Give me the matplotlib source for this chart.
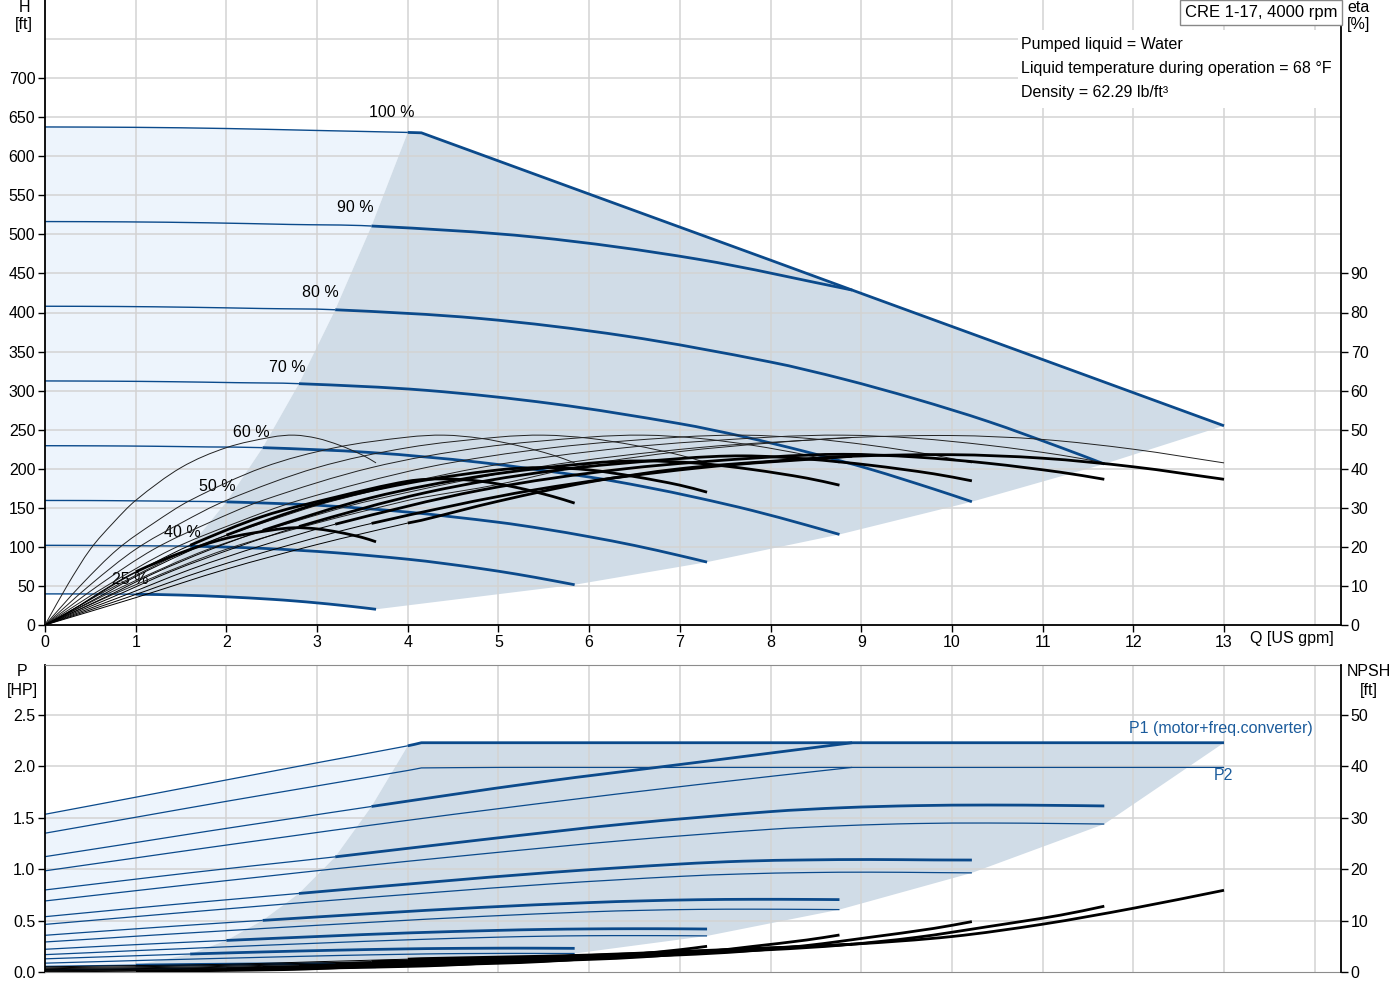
import matplotlib
matplotlib.use("Agg")
import matplotlib.pyplot as plt
from matplotlib.patches import Rectangle, PathPatch
from matplotlib.path import Path

plt.rcParams['font.family'] = ['Liberation Sans', 'DejaVu Sans']

# ------------------------------------------------------------------ data
speed_labels = ["25 %", "40 %", "50 %", "60 %", "70 %", "80 %", "90 %", "100 %"]
label_q = [0.94, 1.51, 1.90, 2.28, 2.67, 3.04, 3.42, 3.82]
label_h = [57.6, 119, 177, 247, 330, 426, 535, 656]

# flow where each speed curve enters the (dark) operating area
bnd_q = [1.0, 1.6, 2.0, 2.4, 2.8, 3.2, 3.6, 4.0]

# pump (hydraulic) efficiency, identical shape for the unlimited speeds
eta_pump = [0, 10.3, 19.4, 26.1, 31.9, 40.3, 45.4, 48.1, 48.6, 47.8, 46.0, 43.5, 41.5]

q_25 = [0, 0.25, 0.5, 0.75, 1.0, 1.5, 2.0, 2.5, 2.75, 3.0, 3.25, 3.5, 3.65]
h_25 = [39.8, 39.8, 39.7, 39.6, 39.4, 38.3, 36.1, 32.9, 30.8, 28.3, 25.4, 22.2, 20.1]
etat_25 = [0, 3.1, 6.8, 10.4, 13.6, 18.5, 22.2, 24.3, 24.9, 24.6, 23.7, 22.4, 21.3]
p1_25 = [0.055, 0.058, 0.061, 0.064, 0.067, 0.072, 0.076, 0.079, 0.080, 0.081, 0.081, 0.081, 0.081]
p2_25 = [0.021, 0.024, 0.026, 0.028, 0.031, 0.035, 0.039, 0.042, 0.043, 0.044, 0.044, 0.044, 0.044]
npsh_25 = [0.06, 0.08, 0.09, 0.13, 0.16, 0.22, 0.31, 0.43, 0.51, 0.66, 0.86, 1.08, 1.25]

q_40 = [0, 0.4, 0.8, 1.2, 1.6, 2.4, 3.2, 4.0, 4.4, 4.8, 5.2, 5.6, 5.84]
h_40 = [102.0, 101.9, 101.7, 101.3, 100.9, 98.1, 92.5, 84.2, 78.7, 72.3, 65.1, 56.8, 51.5]
etat_40 = [0, 5.2, 10.9, 15.9, 20.4, 27.8, 32.7, 36.8, 37.4, 36.8, 35.2, 32.9, 31.2]
p1_40 = [0.128, 0.140, 0.152, 0.164, 0.175, 0.195, 0.212, 0.225, 0.229, 0.231, 0.232, 0.231, 0.230]
p2_40 = [0.086, 0.096, 0.106, 0.116, 0.125, 0.143, 0.160, 0.173, 0.178, 0.180, 0.181, 0.180, 0.180]
npsh_40 = [0.16, 0.20, 0.24, 0.32, 0.40, 0.56, 0.80, 1.09, 1.31, 1.68, 2.21, 2.77, 3.20]

q_50 = [0, 0.5, 1.0, 1.5, 2.0, 3.0, 4.0, 5.0, 5.5, 6.0, 6.5, 7.0, 7.3]
h_50 = [159.4, 159.3, 158.9, 158.3, 157.6, 153.3, 144.5, 131.5, 123.0, 113.0, 101.8, 88.8, 80.5]
etat_50 = [0, 6.0, 12.4, 18.0, 23.0, 31.0, 36.3, 39.7, 40.3, 39.7, 38.0, 35.8, 34.0]
p1_50 = [0.221, 0.244, 0.266, 0.287, 0.307, 0.345, 0.380, 0.405, 0.414, 0.419, 0.421, 0.420, 0.418]
p2_50 = [0.169, 0.188, 0.208, 0.226, 0.245, 0.280, 0.313, 0.339, 0.348, 0.353, 0.354, 0.353, 0.351]
npsh_50 = [0.25, 0.31, 0.38, 0.50, 0.63, 0.88, 1.25, 1.70, 2.05, 2.63, 3.45, 4.33, 5.00]

q_60 = [0, 0.6, 1.2, 1.8, 2.4, 3.6, 4.8, 6.0, 6.6, 7.2, 7.8, 8.4, 8.76]
h_60 = [229.5, 229.3, 228.8, 227.9, 227.0, 220.7, 208.1, 189.4, 177.1, 162.7, 146.5, 127.8, 115.9]
etat_60 = [0, 6.4, 13.2, 19.1, 24.2, 32.6, 38.1, 41.4, 42.0, 41.4, 39.8, 37.6, 35.8]
p1_60 = [0.357, 0.395, 0.432, 0.468, 0.502, 0.568, 0.628, 0.675, 0.692, 0.703, 0.707, 0.706, 0.704]
p2_60 = [0.292, 0.325, 0.359, 0.391, 0.423, 0.484, 0.540, 0.585, 0.600, 0.609, 0.611, 0.609, 0.607]
npsh_60 = [0.36, 0.45, 0.54, 0.72, 0.90, 1.26, 1.80, 2.45, 2.95, 3.78, 4.97, 6.23, 7.20]

q_70 = [0, 0.7, 1.4, 2.1, 2.8, 4.2, 5.6, 7.0, 7.7, 8.4, 9.1, 9.8, 10.22]
h_70 = [312.4, 312.1, 311.4, 310.2, 308.9, 300.4, 283.2, 257.7, 241.1, 221.5, 199.4, 174.0, 157.8]
etat_70 = [0, 6.7, 13.8, 19.8, 25.2, 33.9, 39.5, 42.6, 43.3, 42.5, 40.9, 38.7, 36.9]
p1_70 = [0.538, 0.597, 0.655, 0.710, 0.764, 0.870, 0.970, 1.050, 1.078, 1.090, 1.094, 1.090, 1.089]
p2_70 = [0.463, 0.516, 0.569, 0.621, 0.672, 0.768, 0.858, 0.930, 0.954, 0.967, 0.971, 0.967, 0.964]
npsh_70 = [0.49, 0.61, 0.74, 0.98, 1.23, 1.72, 2.45, 3.33, 4.02, 5.15, 6.76, 8.48, 9.80]

q_80 = [0, 0.8, 1.6, 2.4, 3.2, 4.8, 6.4, 8.0, 8.8, 9.6, 10.4, 11.2, 11.68]
h_80 = [408.0, 407.7, 406.7, 405.1, 403.5, 392.3, 369.9, 336.6, 314.9, 289.3, 260.5, 227.2, 206.1]
etat_80 = [0, 6.9, 14.2, 20.4, 25.8, 34.5, 40.0, 43.0, 43.7, 43.0, 41.4, 39.1, 37.3]
p1_80 = [0.798, 0.882, 0.965, 1.043, 1.120, 1.285, 1.440, 1.560, 1.598, 1.618, 1.624, 1.620, 1.615]
p2_80 = [0.691, 0.771, 0.850, 0.927, 1.004, 1.147, 1.280, 1.388, 1.423, 1.444, 1.449, 1.444, 1.439]
npsh_80 = [0.64, 0.80, 0.96, 1.28, 1.60, 2.24, 3.20, 4.35, 5.25, 6.72, 8.83, 11.07, 12.80]

q_90 = [0, 0.9, 1.8, 2.7, 3.6, 5.4, 7.2, 8.9]
h_90 = [516.4, 516.0, 514.8, 512.7, 510.7, 496.5, 468.2, 428.7]
etap_90 = [0, 10.3, 19.4, 26.1, 31.9, 40.3, 45.4, 48.0]
etat_90 = [0, 7.0, 14.3, 20.5, 26.0, 34.6, 40.2, 43.2]
p1_90 = [1.122, 1.245, 1.370, 1.490, 1.610, 1.840, 2.040, 2.230]
p2_90 = [0.984, 1.097, 1.210, 1.320, 1.429, 1.633, 1.823, 1.990]
npsh_90 = [0.81, 1.01, 1.22, 1.62, 2.03, 2.84, 4.05, 5.40]

# 100 % speed, power limited beyond 4.15 US gpm
q_100 = [0, 1.0, 2.0, 3.0, 4.0, 4.15, 5.0, 6.0, 7.0, 8.0, 8.9, 10.0, 11.0, 12.0, 13.0]
h_100 = [637.5, 637.0, 635.5, 633.0, 630.5, 630.0, 594.0, 551.6, 509.3, 467.0, 428.7, 382.1, 339.8, 297.4, 255.0]
etap_100 = [0, 10.3, 19.4, 26.1, 31.9, 32.6, 36.0, 41.1, 44.4, 46.6, 48.0, 48.5, 47.5, 45.0, 41.5]
etat_100 = [0, 7.0, 14.3, 20.6, 26.1, 26.8, 31.7, 36.6, 40.0, 41.9, 43.2, 43.6, 42.7, 40.5, 37.3]
p1_100 = [1.534, 1.700, 1.868, 2.035, 2.200, 2.230, 2.230, 2.230, 2.230, 2.230, 2.230, 2.230, 2.230, 2.230, 2.230]
p2_100 = [1.350, 1.505, 1.660, 1.810, 1.960, 1.985, 1.990, 1.990, 1.990, 1.990, 1.990, 1.990, 1.990, 1.990, 1.990]
npsh_100 = [1.0, 1.25, 1.5, 2.0, 2.5, 2.6, 2.9, 3.3, 4.0, 4.7, 5.4, 6.9, 9.3, 12.4, 15.9]

Q_ALL = [q_25, q_40, q_50, q_60, q_70, q_80, q_90, q_100]
H_ALL = [h_25, h_40, h_50, h_60, h_70, h_80, h_90, h_100]
ETAP_ALL = [eta_pump, eta_pump, eta_pump, eta_pump, eta_pump, eta_pump, etap_90, etap_100]
ETAT_ALL = [etat_25, etat_40, etat_50, etat_60, etat_70, etat_80, etat_90, etat_100]
P1_ALL = [p1_25, p1_40, p1_50, p1_60, p1_70, p1_80, p1_90, p1_100]
P2_ALL = [p2_25, p2_40, p2_50, p2_60, p2_70, p2_80, p2_90, p2_100]
NPSH_ALL = [npsh_25, npsh_40, npsh_50, npsh_60, npsh_70, npsh_80, npsh_90, npsh_100]

title_text = "CRE 1-17, 4000 rpm"
info_lines = ["Pumped liquid = Water",
              "Liquid temperature during operation = 68 °F",
              "Density = 62.29 lb/ft³"]

# ------------------------------------------------------------------ style
BLUE = '#0b4a8b'
LABEL_BLUE = '#1c5c9c'
LIGHT = '#edf4fc'
DARK = '#d0dce7'
GRID = '#d3d3d3'
FS = 11.5
XMAX = 14.29

fig = plt.figure(figsize=(14, 10), dpi=100)
L, W = 45 / 1400, 1296 / 1400
ax = fig.add_axes([L, 0.375, W, 0.625])
axe = ax.twinx()
bx = fig.add_axes([L, 0.028, W, 0.307])
bxn = bx.twinx()


def split_index(q, qb):
    return q.index(qb)


def slopes(x, y, corners):
    """left/right tangent slopes at every point (Hermite in x)."""
    n = len(x)
    left, right = [0.0] * n, [0.0] * n
    for j in range(n):
        fwd = (y[j + 1] - y[j]) / (x[j + 1] - x[j]) if j < n - 1 else None
        bwd = (y[j] - y[j - 1]) / (x[j] - x[j - 1]) if j > 0 else None
        if fwd is None:
            left[j] = right[j] = bwd
        elif bwd is None:
            left[j] = right[j] = fwd
        elif j in corners:
            left[j], right[j] = bwd, fwd
        else:
            c = (y[j + 1] - y[j - 1]) / (x[j + 1] - x[j - 1])
            left[j] = right[j] = c
    return left, right


def smooth_piece(a, x, y, i0, i1, corners, **style):
    left, right = slopes(x, y, corners)
    verts = [(x[i0], y[i0])]
    codes = [Path.MOVETO]
    for i in range(i0, i1):
        h = x[i + 1] - x[i]
        verts += [(x[i] + h / 3, y[i] + right[i] * h / 3),
                  (x[i + 1] - h / 3, y[i + 1] - left[i + 1] * h / 3),
                  (x[i + 1], y[i + 1])]
        codes += [Path.CURVE4] * 3
    a.add_patch(PathPatch(Path(verts, codes), fill=False, capstyle='butt',
                          joinstyle='round', **style))


def draw_split(a, q, y, qb, color, lw_thin, lw_thick, zorder=2, corners=()):
    i = split_index(q, qb)
    smooth_piece(a, q, y, 0, i, corners, edgecolor=color, lw=lw_thin, zorder=zorder)
    smooth_piece(a, q, y, i, len(q) - 1, corners, edgecolor=color, lw=lw_thick,
                 zorder=zorder + 0.1)


def corners_for(k):
    return (5,) if k == 7 else ()


# ------------------------------------------------------------------ top (QH + eta)
ax.set_xlim(0, XMAX)
ax.set_ylim(0, 800)
axe.set_ylim(0, 160)

for x in range(1, 15):
    ax.axvline(x, color=GRID, lw=1.1, zorder=0.6)
for y in range(50, 751, 50):
    ax.axhline(y, color=GRID, lw=1.1, zorder=0.6)

bnd_h = [H_ALL[k][split_index(Q_ALL[k], bnd_q[k])] for k in range(8)]
end_q = [Q_ALL[k][-1] for k in range(6)]
end_h = [H_ALL[k][-1] for k in range(6)]

i100 = split_index(q_100, 4.0)
i25 = split_index(q_25, 1.0)
light_x = q_100[:i100 + 1] + bnd_q[::-1][1:] + q_25[:i25 + 1][::-1]
light_y = h_100[:i100 + 1] + bnd_h[::-1][1:] + h_25[:i25 + 1][::-1]
ax.fill(light_x, light_y, color=LIGHT, lw=0, zorder=0.3)

dark_x = bnd_q + q_100[i100 + 1:] + end_q[1:][::-1] + q_25[i25:][::-1]
dark_y = bnd_h + h_100[i100 + 1:] + end_h[1:][::-1] + h_25[i25:][::-1]
ax.fill(dark_x, dark_y, color=DARK, lw=0, zorder=0.3)

for k in range(8):
    draw_split(ax, Q_ALL[k], H_ALL[k], bnd_q[k], BLUE, 1.0, 2.0, zorder=2,
               corners=corners_for(k))

for k in range(8):
    smooth_piece(axe, Q_ALL[k], ETAP_ALL[k], 0, len(Q_ALL[k]) - 1, (),
                 edgecolor='#222222', lw=0.7, zorder=2)
    draw_split(axe, Q_ALL[k], ETAT_ALL[k], bnd_q[k], 'black', 0.7, 2.0, zorder=2.2)

for lbl, xq, yh in zip(speed_labels, label_q, label_h):
    ax.text(xq, yh, lbl, ha='center', va='center', fontsize=FS, zorder=4)

ax.set_xticks(range(0, 14))
ax.set_yticks(range(0, 701, 50))
axe.set_yticks(range(0, 91, 10))
ax.tick_params(axis='both', direction='out', length=5, width=1, labelsize=FS, pad=2)
axe.tick_params(axis='y', direction='out', length=5, width=1, labelsize=FS, pad=2)
for a in (ax, axe):
    a.spines['top'].set_visible(False)
ax.spines['right'].set_visible(False)
axe.spines['left'].set_visible(False)
axe.spines['bottom'].set_visible(False)
for s in ('left', 'bottom'):
    ax.spines[s].set_linewidth(1.3)
axe.spines['right'].set_linewidth(1.3)

# ------------------------------------------------------------------ bottom (P + NPSH)
bx.set_xlim(0, XMAX)
bx.set_ylim(0, 2.986)
bxn.set_ylim(0, 59.72)
for x in range(1, 15):
    bx.axvline(x, color=GRID, lw=1.1, zorder=0.6)
for y in [0.5, 1.0, 1.5, 2.0, 2.5]:
    bx.axhline(y, color=GRID, lw=1.1, zorder=0.6)

bnd_p = [P1_ALL[k][split_index(Q_ALL[k], bnd_q[k])] for k in range(8)]
end_p2 = [P2_ALL[k][-1] for k in range(6)]

blight_x = q_100[:i100 + 1] + bnd_q[::-1][1:] + q_25[:i25 + 1][::-1]
blight_y = p1_100[:i100 + 1] + bnd_p[::-1][1:] + p1_25[:i25 + 1][::-1]
bx.fill(blight_x, blight_y, color=LIGHT, lw=0, zorder=0.3)

bdark_x = bnd_q + q_100[i100 + 1:] + end_q[1:][::-1] + q_25[i25:][::-1]
bdark_y = bnd_p + p1_100[i100 + 1:] + end_p2[1:][::-1] + p2_25[i25:][::-1]
bx.fill(bdark_x, bdark_y, color=DARK, lw=0, zorder=0.3)

for k in range(8):
    smooth_piece(bx, Q_ALL[k], P2_ALL[k], 0, len(Q_ALL[k]) - 1, corners_for(k),
                 edgecolor=BLUE, lw=0.9, zorder=2)
    draw_split(bx, Q_ALL[k], P1_ALL[k], bnd_q[k], BLUE, 0.9, 2.0, zorder=2.2,
               corners=corners_for(k))
    draw_split(bxn, Q_ALL[k], NPSH_ALL[k], bnd_q[k], 'black', 0.7, 2.0, zorder=2)

bx.text(13.98, 2.373, "P1 (motor+freq.converter)", ha='right', va='center',
        fontsize=FS, color=LABEL_BLUE, zorder=4)
bx.text(12.99, 1.907, "P2", ha='center', va='center', fontsize=FS,
        color=LABEL_BLUE, zorder=4)

bx.set_xticks(range(0, 14))
bx.set_xticklabels([])
bx.tick_params(axis='x', length=0)
bx.set_yticks([0, 0.5, 1.0, 1.5, 2.0, 2.5])
bx.set_yticklabels(['0.0', '0.5', '1.0', '1.5', '2.0', '2.5'])
bx.tick_params(axis='y', direction='out', length=5, width=1, labelsize=FS, pad=2)
bxn.set_yticks(range(0, 51, 10))
bxn.tick_params(axis='y', direction='out', length=5, width=1, labelsize=FS, pad=2)
bx.spines['right'].set_visible(False)
bxn.spines['left'].set_visible(False)
bxn.spines['top'].set_visible(False)
bxn.spines['bottom'].set_visible(False)
bx.spines['top'].set_color('#8c8c8c')
bx.spines['bottom'].set_color('#8c8c8c')
bx.spines['left'].set_linewidth(1.3)
bxn.spines['right'].set_linewidth(1.3)


# ------------------------------------------------------------------ texts
def ftext(px, py, s, **kw):
    fig.text(px / 1400, 1 - py / 1000, s, ha=kw.pop('ha', 'center'),
             va=kw.pop('va', 'center'), fontsize=kw.pop('fontsize', FS), **kw)


ftext(24, 7, "H")
ftext(24, 25, "[ft]")
ftext(1359, 7, "eta")
ftext(1359, 25, "[%]")
ftext(1292, 639, "Q [US gpm]")
ftext(22, 672, "P")
ftext(22, 690, "[HP]")
ftext(1369, 672, "NPSH")
ftext(1369, 690, "[ft]")

fig.patches.append(Rectangle((1018 / 1400, 1 - 108 / 1000), 322 / 1400, 78 / 1000,
                             transform=fig.transFigure, facecolor='white',
                             edgecolor='none', zorder=5))
for i, line in enumerate(info_lines):
    ftext(1021, 44 + 24 * i, line, ha='left', zorder=6)

ftext(1261, 12, title_text, fontsize=12, zorder=7,
      bbox=dict(boxstyle='square,pad=0.3', facecolor='white', edgecolor='#888888', lw=1))

fig.savefig('out.png', dpi=100)
